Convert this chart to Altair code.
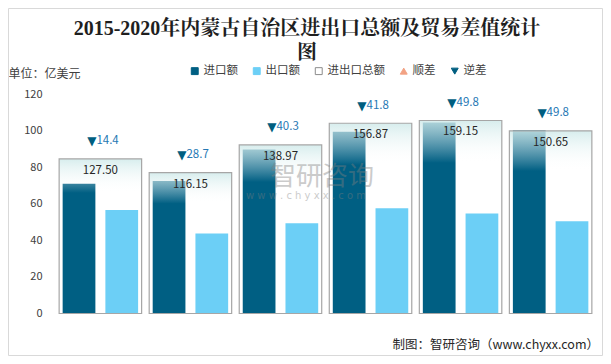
import altair as alt
import pandas as pd

years = ["2015年", "2016年", "2017年", "2018年", "2019年", "2020年"]
import_vals = [70.95, 72.43, 89.64, 99.34, 104.48, 100.23]
export_vals = [56.55, 43.72, 49.33, 57.53, 54.67, 50.42]
total_vals = [127.50, 116.15, 138.97, 156.87, 159.15, 150.65]
balance_vals = [14.4, 28.7, 40.3, 41.8, 49.8, 49.8]
series_names = ["进口额", "出口额"]
legend_names = ["进口额", "出口额", "进出口总额", "顺差", "逆差"]
y_ticks = [0, 20, 40, 60, 80, 100, 120]

title_text = "2015-2020年内蒙古自治区进出口总额及贸易差值统计\n图"
unit_text = "单位：亿美元"
source_text = "制图：智研咨询（www.chyxx.com）"

C_IMP = "#005F83"
C_EXP = "#6CCFF6"
C_UP = "#F2A283"
C_TRI = "#005E80"
C_NUM = "#2678B4"
CJK = "Noto Sans CJK SC"
W, H = 541, 219.5

bars_df = pd.DataFrame({
    "year": years * 2,
    "series": [s for s in series_names for _ in years],
    "value": import_vals + export_vals,
})
tot_df = pd.DataFrame({"year": years, "total": total_vals, "balance": balance_vals})
leg_df = pd.DataFrame({"item": legend_names})

x_scale = alt.Scale(domain=years, paddingInner=0.084, paddingOuter=0.046)
box_y = alt.Scale(domain=[0, 181], nice=False, zero=True)

x_axis = alt.Axis(
    title=None, labelAngle=0, ticks=False, grid=False,
    domainColor="#d9d9d9", labelFont=CJK, labelFontSize=11, labelColor="#404040",
    labelPadding=10,
)

bars = alt.Chart(bars_df).mark_bar().encode(
    x=alt.X("year:N", scale=x_scale, sort=years, axis=x_axis),
    xOffset=alt.XOffset("series:N", sort=series_names,
                        scale=alt.Scale(domain=series_names, paddingInner=0.234, paddingOuter=0.082)),
    y=alt.Y("value:Q", scale=alt.Scale(domain=[0, 120], nice=False),
            axis=alt.Axis(values=y_ticks, domain=False, ticks=False, grid=False,
                          labelFont=CJK, labelFontSize=11, labelColor="#404040", labelPadding=13,
                          title=unit_text, titleAngle=0, titleAlign="left", titleBaseline="middle",
                          titleX=-47, titleY=-21, titleFont=CJK, titleFontSize=12,
                          titleFontWeight="normal", titleColor="#404040")),
    color=alt.Color("series:N", scale=alt.Scale(domain=series_names, range=[C_IMP, C_EXP]), legend=None),
)

grad = {
    "gradient": "linear", "x1": 0, "y1": 0, "x2": 0, "y2": 1,
    "stops": [
        {"offset": 0, "color": "rgba(208,234,234,0.85)"},
        {"offset": 0.22, "color": "rgba(255,255,255,0)"},
        {"offset": 1, "color": "rgba(255,255,255,0)"},
    ],
}

boxes = alt.Chart(tot_df).mark_bar(fill=grad, stroke="#a6a6a6", strokeWidth=1.2).encode(
    x=alt.X("year:N", scale=x_scale, sort=years, axis=None),
    y=alt.Y("total:Q", scale=box_y, axis=None),
)

total_text = alt.Chart(tot_df).mark_text(dy=12, font=CJK, fontSize=11.5, color="#262626").encode(
    x=alt.X("year:N", scale=x_scale, sort=years, axis=None),
    y=alt.Y("total:Q", scale=box_y, axis=None),
    text=alt.Text("total:Q", format=".2f"),
)

tri_text = alt.Chart(tot_df).mark_text(text="▼", align="right", dx=-4, dy=-17.5,
                                       font="DejaVu Sans", fontSize=12, color=C_TRI).encode(
    x=alt.X("year:N", scale=x_scale, sort=years, axis=None),
    y=alt.Y("total:Q", scale=box_y, axis=None),
)

bal_text = alt.Chart(tot_df).mark_text(align="left", dx=-4, dy=-17.5, font=CJK,
                                       fontSize=11.5, color=C_NUM).encode(
    x=alt.X("year:N", scale=x_scale, sort=years, axis=None),
    y=alt.Y("total:Q", scale=box_y, axis=None),
    text=alt.Text("balance:Q", format=".1f"),
)

wm1 = alt.Chart(pd.DataFrame({"t": ["智研咨询"]})).mark_text(
    font=CJK, fontSize=26, color="#808080", opacity=0.4).encode(
    x=alt.value(267), y=alt.value(83), text="t:N")
wm2 = alt.Chart(pd.DataFrame({"t": ["w w w . c h y x x . c o m"]})).mark_text(
    font="DejaVu Sans", fontSize=10, color="#808080", opacity=0.4).encode(
    x=alt.value(251), y=alt.value(102), text="t:N")

title_mark = alt.Chart(pd.DataFrame({"t": [title_text]})).mark_text(
    font="Liberation Serif, Noto Serif CJK SC, Noto Sans CJK SC", fontSize=20, fontWeight="bold",
    color="#1f1f1f", align="center", baseline="alphabetic", lineBreak="\n", lineHeight=24).encode(
    x=alt.value(252), y=alt.value(-59), text="t:N")

source_mark = alt.Chart(pd.DataFrame({"t": [source_text]})).mark_text(
    font=CJK, fontSize=12.5, color="#262626", align="right", baseline="middle").encode(
    x=alt.value(544), y=alt.value(31 + H), text="t:N")

frame = alt.Chart(pd.DataFrame({"f": [0]})).mark_rect(
    fillOpacity=0, stroke="#d9d9d9", strokeWidth=1, clip=False).encode(
    x=alt.value(-46.5), x2=alt.value(547.5), y=alt.value(-85.5), y2=alt.value(261.5))

legend = alt.Legend(orient="none", legendX=134, legendY=-29, direction="horizontal",
                    title=None, symbolSize=48, labelFont=CJK, labelFontSize=11.5,
                    labelColor="#404040", columnPadding=13, labelOffset=3, symbolStrokeWidth=1,
                    symbolOpacity=1)

leg = alt.Chart(leg_df).mark_point(filled=True, clip=True, size=48, opacity=1).encode(
    x=alt.value(-200), y=alt.value(-200),
    fill=alt.Fill("item:N", sort=legend_names,
                  scale=alt.Scale(domain=legend_names, range=[C_IMP, C_EXP, "#ffffff", C_UP, C_TRI]),
                  legend=legend),
    stroke=alt.Stroke("item:N", sort=legend_names,
                      scale=alt.Scale(domain=legend_names, range=[C_IMP, C_EXP, "#8c8c8c", C_UP, C_TRI]),
                      legend=legend),
    shape=alt.Shape("item:N", sort=legend_names,
                    scale=alt.Scale(domain=legend_names,
                                    range=["square", "square", "square", "triangle-up", "triangle-down"]),
                    legend=legend),
)

chart = alt.layer(bars, boxes, total_text, tri_text, bal_text, wm1, wm2,
                  title_mark, source_mark, frame, leg).resolve_scale(
    y="independent"
).properties(
    width=W, height=H,
    padding={"left": 47, "top": 86, "right": 7, "bottom": 42.5},
    autosize=alt.AutoSizeParams(type="none"),
).configure_view(stroke=None)

chart.save("out.html", embed_options={"renderer": "svg", "actions": False})
